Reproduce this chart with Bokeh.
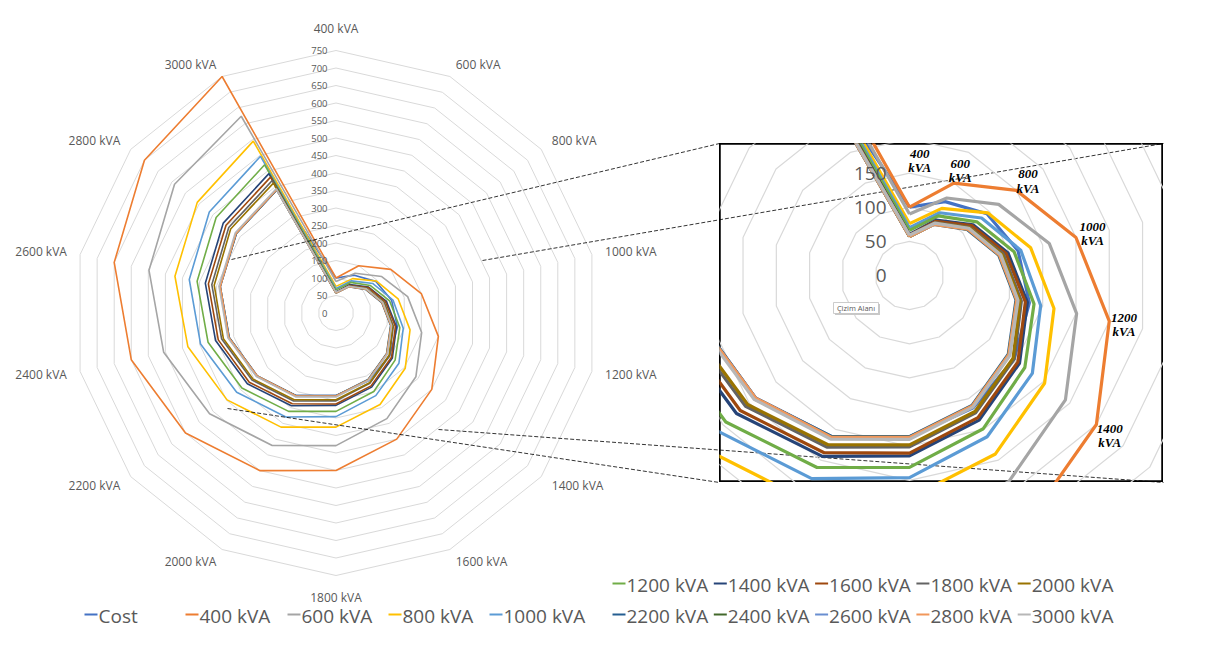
import numpy as np
from bokeh.plotting import figure
from bokeh.models import Range1d, GridBox
from bokeh.core.properties import value
from bokeh.embed import file_html
from bokeh.resources import INLINE

# ---------------- data ----------------
categories = ["400 kVA", "600 kVA", "800 kVA", "1000 kVA", "1200 kVA", "1400 kVA", "1600 kVA",
              "1800 kVA", "2000 kVA", "2200 kVA", "2400 kVA", "2600 kVA", "2800 kVA", "3000 kVA"]
tick_values = [0, 50, 100, 150, 200, 250, 300, 350, 400, 450, 500, 550, 600, 650, 700, 750]

series_names = ["Cost", "400 kVA", "600 kVA", "800 kVA", "1000 kVA", "1200 kVA", "1400 kVA", "1600 kVA",
                "1800 kVA", "2000 kVA", "2200 kVA", "2400 kVA", "2600 kVA", "2800 kVA", "3000 kVA"]

cost  = [100, 120, 145, 163, 180, 196, 215, 236, 262, 288, 313, 339, 364, 390]
s400  = [100, 150, 200, 250, 300, 350, 400, 450, 500, 550, 600, 650, 700, 750]
s600  = [90, 126, 167, 210, 251, 292, 335, 379, 420, 462, 505, 548, 590, 624]
s800  = [76, 109, 147, 182, 217, 253, 290, 326, 362, 398, 434, 472, 507, 545]
s1000 = [70, 102, 135, 167, 197, 230, 262, 296, 330, 363, 397, 430, 463, 497]
s1200 = [66, 97, 126, 157, 187, 216, 249, 281, 312, 344, 375, 407, 438, 470]
s1400 = [60, 90, 119, 148, 177, 206, 235, 264, 294, 324, 353, 383, 412, 442]
s1600 = [59, 88, 117, 145, 174, 203, 231, 260, 288, 317, 345, 374, 402, 431]
s1800 = [58, 86, 113, 141, 168, 196, 223, 251, 279, 307, 335, 364, 392, 420]
s2000 = [58, 85, 112, 139, 166, 194, 221, 248, 275, 303, 330, 357, 385, 412]
s2200 = [57, 83, 108, 134, 160, 185, 211, 236, 262, 288, 313, 339, 364, 390]
s2400 = [57, 84, 109, 135, 161, 186, 212, 237, 263, 289, 314, 340, 365, 391]
s2600 = [58, 84, 110, 136, 162, 187, 213, 238, 264, 290, 315, 341, 366, 392]
s2800 = [57, 83, 109, 135, 161, 186, 212, 237, 263, 288, 314, 339, 365, 391]
s3000 = [59, 85, 111, 137, 163, 188, 214, 240, 266, 291, 317, 343, 368, 394]

series_values = [cost, s400, s600, s800, s1000, s1200, s1400, s1600,
                 s1800, s2000, s2200, s2400, s2600, s2800, s3000]

colors = ["#4472C4", "#ED7D31", "#A5A5A5", "#FFC000", "#5B9BD5", "#70AD47", "#264478", "#9E480E",
          "#636363", "#997300", "#255E91", "#43682B", "#698ED0", "#F1975A", "#B7B7B7"]

inset_label_text = ["400\nkVA", "600\nkVA", "800\nkVA", "1000\nkVA", "1200\nkVA", "1400\nkVA"]

# ---------------- helpers ----------------
N = len(categories)
ang = np.arange(N) * 2 * np.pi / N
SIN, COS = np.sin(ang), np.cos(ang)


def ring(vals):
    v = np.asarray(vals, dtype=float)
    x = v * SIN
    y = v * COS
    return list(np.append(x, x[0])), list(np.append(y, y[0]))


FONT = value("Open Sans")
GREY_TXT = "#595959"
GRID = "#D9D9D9"

# ---------------- main figure ----------------
W, H = 1209, 637
CX, CY = 335.5, 312.5   # centre of radar in figure pixels
S = 0.35                # pixels per unit

p = figure(width=W, height=H, output_backend="svg", toolbar_location=None,
           x_range=Range1d(-CX / S, (W - CX) / S), y_range=Range1d(-(H - CY) / S, CY / S),
           x_axis_type=None, y_axis_type=None, min_border=0)
p.grid.visible = False
p.outline_line_color = None
p.background_fill_color = "white"
p.border_fill_color = "white"


def pg(px, py):
    """figure pixel -> main data units"""
    return (px - CX) / S, (CY - py) / S


# grid rings
rx, ry = [], []
for t in tick_values[1:]:
    xx, yy = ring([t] * N)
    rx.append(xx)
    ry.append(yy)
p.multi_line(rx, ry, line_color=GRID, line_width=1)

# series
for name, vals, col in zip(series_names, series_values, colors):
    xx, yy = ring(vals)
    p.line(xx, yy, line_color=col, line_width=1.6)

# radial tick labels
p.text(x=[-8.5 / S] * len(tick_values), y=tick_values, text=[str(t) for t in tick_values],
       text_align="right", text_baseline="middle", text_font=FONT,
       text_font_size="9.5px", text_color=GREY_TXT)

# category labels
R_LAB = 276 / S
for k, cat in enumerate(categories):
    s, c = SIN[k], COS[k]
    if abs(s) < 0.01:
        align = "center"
        base = "bottom" if c > 0 else "top"
    else:
        align = "left" if s > 0 else "right"
        base = "middle"
    p.text(x=[R_LAB * s], y=[R_LAB * c], text=[cat], text_align=align, text_baseline=base,
           text_font=FONT, text_font_size="12px", text_color=GREY_TXT)

# connector (zoom) lines
conn = [((231, 259), (719, 143)), ((482, 260), (1163, 143)),
        ((227, 408), (719, 482)), ((438, 429), (1163, 482))]
x0, y0, x1, y1 = [], [], [], []
for a, b in conn:
    ax_, ay_ = pg(*a)
    bx_, by_ = pg(*b)
    x0.append(ax_); y0.append(ay_); x1.append(bx_); y1.append(by_)
p.segment(x0, y0, x1, y1, line_color="black", line_width=0.8, line_dash="4 2")

# legend (manual, two rows)
leg_left_x = [84, 185, 287, 388, 489]
leg_right_x = [612 + 101.3 * i for i in range(5)]
rows = [(leg_left_x, series_names[0:5], colors[0:5], 614.0),
        (leg_right_x, series_names[5:10], colors[5:10], 583.0),
        (leg_right_x, series_names[10:15], colors[10:15], 614.0)]
for xs, names, cols, yy in rows:
    for xpx, nm, col in zip(xs, names, cols):
        lx0, ly = pg(xpx, yy)
        lx1, _ = pg(xpx + 13, yy)
        tx, ty = pg(xpx + 14, yy + 1)
        p.segment([lx0], [ly], [lx1], [ly], line_color=col, line_width=2)
        p.text(x=[tx], y=[ty], text=[nm], text_align="left", text_baseline="middle",
               text_font=FONT, text_font_size="19px", text_color=GREY_TXT)

# ---------------- inset figure ----------------
IW, IH = 444, 339
ICX, ICY = 190, 132
IS = 0.683

q = figure(width=IW, height=IH, output_backend="svg", toolbar_location=None,
           x_range=Range1d(-ICX / IS, (IW - ICX) / IS), y_range=Range1d(-(IH - ICY) / IS, ICY / IS),
           x_axis_type=None, y_axis_type=None, min_border=0)
q.grid.visible = False
q.background_fill_alpha = 0
q.border_fill_alpha = 0
q.outline_line_color = "black"
q.outline_line_width = 2.5

q.multi_line(rx, ry, line_color=GRID, line_width=1.2)
for name, vals, col in zip(series_names, series_values, colors):
    xx, yy = ring(vals)
    q.line(xx, yy, line_color=col, line_width=3.2)

vis_ticks = [t for t in tick_values if t * IS < ICY - 10]
q.text(x=[-23 / IS] * len(vis_ticks), y=vis_ticks, text=[str(t) for t in vis_ticks],
       text_align="right", text_baseline="middle", text_font=FONT,
       text_font_size="19px", text_color=GREY_TXT)

lab_r = [168, 171, 222, 275, 322, 375]
for k, (txt, r) in enumerate(zip(inset_label_text, lab_r)):
    dx = 15 if k == 0 else 0
    q.text(x=[r * SIN[k] + dx], y=[r * COS[k]], text=[txt], text_align="center",
           text_baseline="middle", text_font=value("Liberation Serif"), text_font_style="bold italic",
           text_font_size="13px", text_color="black", text_line_height=0.95)

# "Çizim Alanı" tooltip box
bx_l, bx_r = (833 - 909) / IS, (878 - 909) / IS
bx_t, bx_b = (275 - 302) / IS, (275 - 313) / IS
sh = 1.5 / IS
q.quad(left=[bx_l + sh], right=[bx_r + sh], top=[bx_t - sh], bottom=[bx_b - sh],
       fill_color="#C8C8C8", line_color=None)
q.quad(left=[bx_l], right=[bx_r], top=[bx_t], bottom=[bx_b],
       fill_color="white", line_color="#BFBFBF", line_width=0.8)
q.text(x=[(bx_l + bx_r) / 2], y=[(bx_t + bx_b) / 2], text=["Çizim Alanı"], text_align="center",
       text_baseline="middle", text_font=FONT, text_font_size="7.5px", text_color=GREY_TXT)

# ---------------- layout ----------------
layout = GridBox(children=[(p, 0, 0, 2, 2), (q, 1, 1)],
                 rows=["143px", "494px"], cols=["719px", "490px"], spacing=0)

open("out.html", "w").write(file_html(layout, INLINE))
